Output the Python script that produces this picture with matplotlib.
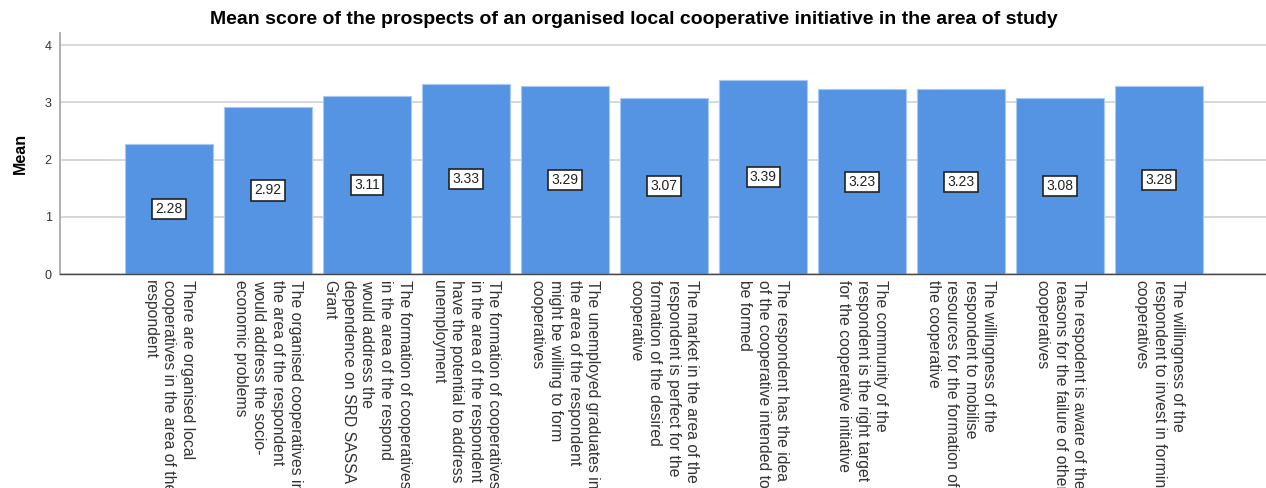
import matplotlib
matplotlib.use("Agg")
import matplotlib.pyplot as plt
import numpy as np

labels = [
    "There are organised local\ncooperatives in the area of the\nrespondent",
    "The organised cooperatives in\nthe area of the respondent\nwould address the socio-\neconomic problems",
    "The formation of cooperatives\nin the area of the respond\nwould address the\ndependence on SRD SASSA\nGrant",
    "The formation of cooperatives\nin the area of the respondent\nhave the potential to address\nunemployment",
    "The unemployed graduates in\nthe area of the respondent\nmight be willing to form\ncooperatives",
    "The market in the area of the\nrespondent is perfect for the\nformation of the desired\ncooperative",
    "The respondent has the idea\nof the cooperative intended to\nbe formed",
    "The community of the\nrespondent is the right target\nfor the cooperative initiative",
    "The willingness of the\nrespondent to mobilise\nresources for the formation of\nthe cooperative",
    "The respodent is aware of the\nreasons for the failure of other\ncooperatives",
    "The willingness of the\nrespondent to invest in forming\ncooperatives",
]
means = [2.28, 2.92, 3.11, 3.33, 3.29, 3.07, 3.39, 3.23, 3.23, 3.08, 3.28]
yticks = [0, 1, 2, 3, 4]

fig = plt.figure(figsize=(12.66, 4.88), dpi=100)
ax = fig.add_axes([0.0474, 0.4385, 0.9526, 0.4935])

x = np.arange(len(means))
ax.bar(x, means, width=0.89, color="#5594e3", edgecolor="#a9c8f2", linewidth=0.8, zorder=2)

# value boxes at half height
for xi, v in zip(x, means):
    ax.text(xi, v / 2, f"{v:.2f}", ha="center", va="center", fontsize=10,
            family=["Liberation Sans Narrow", "Liberation Sans", "DejaVu Sans"], color="#222222", zorder=3,
            bbox=dict(boxstyle="square,pad=0.22", facecolor="white", edgecolor="#222222", linewidth=1.2))

ax.set_xlim(-1.10, 11.08)
ax.set_ylim(0, 4.21)
ax.set_yticks(yticks)
ax.set_yticklabels([str(t) for t in yticks], fontsize=9, color="#333333", family="Liberation Sans")
ax.yaxis.grid(True, color="#d4d4d4", linewidth=1.3, zorder=0)
ax.set_axisbelow(True)

ax.set_xticks(x)
ax.set_xticklabels(labels, rotation=270, ha="center", va="top", multialignment="left",
                   fontsize=11.3, color="#333333", linespacing=1.3,
                   family=["Liberation Sans Narrow", "Liberation Sans", "DejaVu Sans"])
ax.tick_params(axis="both", length=0)
ax.tick_params(axis="x", pad=4)
ax.tick_params(axis="y", pad=6)

for s in ["top", "right"]:
    ax.spines[s].set_visible(False)
ax.spines["left"].set_color("#aaaaaa")
ax.spines["left"].set_linewidth(1.3)
ax.spines["bottom"].set_color("#444444")
ax.spines["bottom"].set_linewidth(1.0)

ax.set_ylabel("Mean", fontsize=11.5, fontweight="bold", family="Liberation Sans", labelpad=12)
fig.text(0.501, 0.961, "Mean score of the prospects of an organised local cooperative initiative in the area of study",
         ha="center", va="center", fontsize=14, fontweight="bold", family="Liberation Sans")

fig.savefig("out.png", dpi=100)
